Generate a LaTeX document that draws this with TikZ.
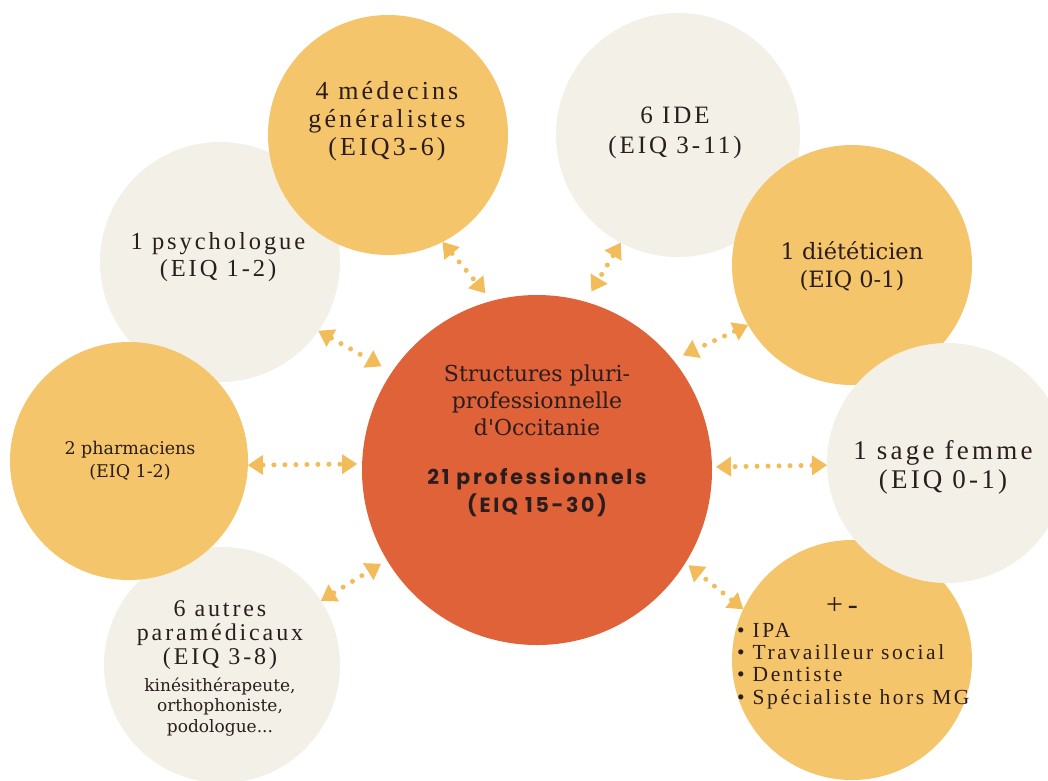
\documentclass[tikz,border=0pt]{standalone}
\usepackage{fontspec}
\setmainfont{DejaVu Serif}
\newfontfamily\spaced{Liberation Serif}[LetterSpace=12]
\newfontfamily\popp{Poppins}[LetterSpace=13]
\usetikzlibrary{arrows.meta}

\definecolor{ymain}{HTML}{F5C56B}
\definecolor{lightc}{HTML}{F3F1E7}
\definecolor{ctrc}{HTML}{DF6238}
\definecolor{arrowc}{HTML}{F2BC5A}
\definecolor{ink}{HTML}{2B1D1D}

\tikzset{
  bubble/.style={circle, inner sep=0pt, outer sep=0pt, minimum size=#1},
  ydisc/.style={bubble=#1, fill=ymain},
  ldisc/.style={bubble=#1, fill=lightc},
  cdisc/.style={bubble=#1, fill=ctrc},
  label/.style={text=ink, align=center, inner sep=0pt},
  link/.style={draw=arrowc, line width=5pt, dash pattern=on 0pt off 11pt, line cap=round,
    {Triangle[length=15pt,width=20pt,line width=0pt]}-{Triangle[length=15pt,width=20pt,line width=0pt]}},
}

\begin{document}
\begin{tikzpicture}[x=1pt,y=-1pt]
\fill[white] (0,0) rectangle (1048,780);
\useasboundingbox (0,0) rectangle (1048,780);

% light discs underneath
\node[ldisc=240] (psy) at (220,262) {};
\node[ldisc=244] (ide) at (678,135) {};
\node[ldisc=236] (aut) at (222,665) {};
% yellow discs
\node[ydisc=240] (med) at (388,135) {};
\node[ydisc=238] (pha) at (129,461) {};
\node[ydisc=240] (die) at (852,265) {};
\node[ydisc=240] (plm) at (852,660) {};
% sage femme disc overlaps its yellow neighbours
\node[ldisc=240] (sag) at (947,463) {};
% central disc
\node[cdisc=350] (ctr) at (537,470) {};

% labels
\node[label, font=\spaced\fontsize{26}{28}\selectfont] (tmed) at (387,121)
  {4 médecins\\généralistes\\(EIQ3-6)};
\node[label, font=\spaced\fontsize{25}{30}\selectfont] (tide) at (675,133)
  {6 IDE\\(EIQ 3-11)};
\node[label, font=\spaced\fontsize{24.5}{27}\selectfont] (tpsy) at (218,257)
  {1 psychologue\\(EIQ 1-2)};
\node[label, font=\fontsize{17.5}{23}\selectfont] (tpha) at (130,461)
  {2 pharmaciens\\(EIQ 1-2)};
\node[label, font=\fontsize{22.5}{28}\selectfont] (tdie) at (852,266)
  {1 diététicien\\(EIQ 0-1)};
\node[label, font=\spaced\fontsize{27}{29}\selectfont] (tsag) at (943,467)
  {1 sage femme\\(EIQ 0-1)};
\node[label, font=\fontsize{22}{27}\selectfont] (tctr) at (537,400)
  {Structures pluri-\\professionnelle\\d\textquotesingle Occitanie};
\node[label, font=\popp\bfseries\fontsize{20.5}{28}\selectfont] (tnum) at (537,492)
  {21 professionnels\\(EIQ 15-30)};
\node[label, font=\spaced\fontsize{24}{24}\selectfont] (taut) at (220,635)
  {6 autres\\paramédicaux\\(EIQ 3-8)};
\node[label, font=\fontsize{17}{20.5}\selectfont] (tkin) at (220,707)
  {kinésithérapeute,\\orthophoniste,\\podologue...};
\node[label, font=\spaced\fontsize{30}{30}\selectfont] (tplm) at (842,606) {+\,-};
\node[label, align=left, anchor=west, font=\spaced\fontsize{21.5}{22.3}\selectfont] (tlist) at (737,666)
  {\textbullet\ IPA\\\textbullet\ Travailleur social\\\textbullet\ Dentiste\\\textbullet\ Spécialiste hors MG};

% connectors
\draw[link, shorten >=10pt] (med.-63) -- (ctr.105.7);
\draw[link, shorten >=12pt] (ide.-118.6) -- (ctr.74.2);
\draw[link, shorten >=12pt] (psy.-35) -- (ctr.146);
\draw[link, shorten >=5pt] (pha.-2.4) -- (ctr.178.7);
\draw[link, shorten >=7pt] (aut.33) -- (ctr.-149.6);
\draw[link, shorten >=11pt] (die.-150) -- (ctr.39);
\draw[link, shorten >=4pt] (sag.181) -- (ctr.1.6);
\draw[link, shorten >=4pt] (plm.155.6) -- (ctr.-32.4);
\end{tikzpicture}
\end{document}
